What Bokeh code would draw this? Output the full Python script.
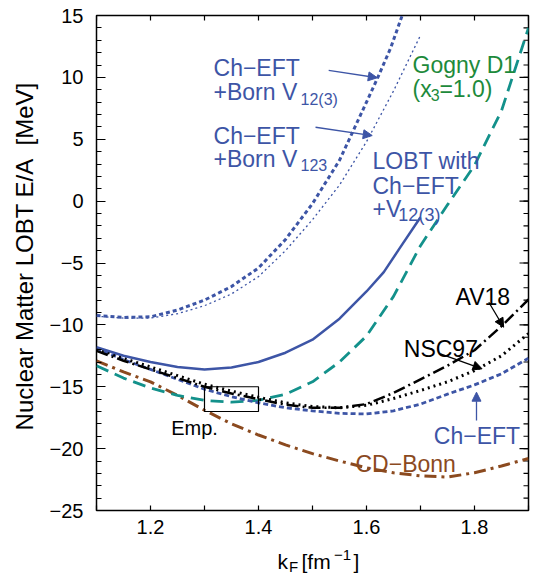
import math
from bokeh.plotting import figure
from bokeh.layouts import column
from bokeh.models import FixedTicker, Label, Arrow, NormalHead, Range1d
from bokeh.embed import file_html
from bokeh.resources import INLINE

FONT = "Liberation Sans"
BLUE = "#3d55a6"
TEAL = "#13918b"
GREEN = "#1d8a3b"
BROWN = "#8b4a1f"
BLACK = "#000000"

# ---------------- data ----------------
kf = [1.10, 1.15, 1.20, 1.25, 1.30, 1.35, 1.40, 1.45, 1.50,
      1.55, 1.60, 1.65, 1.70, 1.75, 1.80, 1.85, 1.90]
gogny = [-13.3, -14.3, -15.1, -15.7, -16.1, -16.25, -16.1, -15.6, -14.6,
         -13.0, -10.9, -7.7, -3.6, -0.3, 2.9, 7.3, 14.0]
av18 = [-12.1, -12.9, -13.6, -14.3, -15.0, -15.55, -16.0, -16.45, -16.7,
        -16.7, -16.4, -15.5, -14.4, -13.3, -12.05, -10.1, -7.95]
nsc97 = [-11.9, -12.7, -13.4, -14.1, -14.8, -15.35, -15.85, -16.3, -16.6,
         -16.7, -16.5, -15.95, -15.3, -14.6, -13.7, -12.5, -10.7]
cheft = [-11.9, -12.8, -13.6, -14.4, -15.2, -15.8, -16.3, -16.7, -16.95,
         -17.15, -17.2, -16.95, -16.4, -15.6, -14.85, -13.95, -12.7]
cdbonn = [-12.9, -13.8, -14.6, -15.7, -16.9, -18.0, -18.9, -19.7, -20.4,
          -21.0, -21.55, -21.95, -22.2, -22.3, -21.95, -21.4, -20.8]

born12_kf = [1.10, 1.15, 1.20, 1.25, 1.30, 1.35, 1.40, 1.45, 1.50, 1.55, 1.60, 1.62, 1.645, 1.666]
born12_e = [-9.25, -9.4, -9.35, -8.8, -8.0, -6.9, -5.4, -3.1, -0.2, 3.3, 8.0, 9.9, 12.4, 15.0]

born123_kf = [1.10, 1.15, 1.20, 1.25, 1.30, 1.35, 1.40, 1.45, 1.50, 1.55, 1.60, 1.65, 1.70]
born123_e = [-9.3, -9.45, -9.45, -9.1, -8.45, -7.5, -6.1, -4.0, -1.5, 1.3, 4.8, 8.9, 13.4]

lobt_kf = [1.10, 1.15, 1.20, 1.25, 1.30, 1.35, 1.40, 1.45, 1.50, 1.55, 1.60, 1.632, 1.66, 1.70]
lobt_e = [-11.8, -12.5, -13.0, -13.4, -13.6, -13.45, -13.0, -12.25, -11.2, -9.5, -7.3, -5.74, -3.9, -1.3]

# empirical saturation box
emp_kf = [1.30, 1.40]
emp_e = [-17.0, -15.0]

x_ticks = [1.1, 1.2, 1.3, 1.4, 1.5, 1.6, 1.7, 1.8, 1.9]
x_tick_labels = ["", "1.2", "", "1.4", "", "1.6", "", "1.8", ""]
y_ticks = [-25, -20, -15, -10, -5, 0, 5, 10, 15]
y_tick_labels = ["\u221225", "\u221220", "\u221215", "\u221210", "\u22125", "0", "5", "10", "15"]
y_minor = list(range(-25, 16))

X_MIN, X_MAX = 1.1, 1.9
Y_MIN, Y_MAX = -25, 15

# text annotations inside the plot: (text, x, y, size, color)
texts = [
    ("Ch\u2212EFT", 1.3167, 10.72, 23, BLUE),
    ("+Born V", 1.3167, 8.78, 23, BLUE),
    ("12(3)", 1.4778, 8.21, 16, BLUE),
    ("Ch\u2212EFT", 1.3167, 5.30, 23, BLUE),
    ("+Born V", 1.3167, 3.44, 23, BLUE),
    ("123", 1.4778, 2.88, 16, BLUE),
    ("LOBT with", 1.6111, 3.28, 23, BLUE),
    ("Ch\u2212EFT", 1.6111, 1.26, 23, BLUE),
    ("+V", 1.6111, -0.60, 23, BLUE),
    ("12(3)", 1.6590, -1.16, 18, BLUE),
    ("Gogny D1", 1.6852, 10.96, 23, GREEN),
    ("(x", 1.6852, 9.08, 23, GREEN),
    ("3", 1.7190, 8.54, 16, GREEN),
    ("=1.0)", 1.7350, 9.08, 23, GREEN),
    ("AV18", 1.7648, -7.76, 23, BLACK),
    ("NSC97", 1.6691, -11.94, 23, BLACK),
    ("Ch\u2212EFT", 1.7247, -18.94, 23, BLUE),
    ("CD\u2212Bonn", 1.5796, -21.28, 23, BROWN),
    ("Emp.", 1.2383, -18.35, 20, BLACK),
]

# x-axis title pieces: (text, x, baseline in px above strip bottom, size)
xtitle = [
    ("k", 1.4352, 14, 21),
    ("F", 1.4565, 9, 15),
    ("[fm", 1.4796, 14, 21),
    ("\u22121", 1.5398, 21, 15),
    ("]", 1.5759, 14, 21),
]

# arrows: (x_start, y_start, x_end, y_end, color)
arrows = [
    (1.530, 10.56, 1.620, 9.97, BLUE),
    (1.5056, 5.97, 1.6106, 5.30, BLUE),
    (1.8265, -8.17, 1.854, -10.19, BLACK),
    (1.737, -12.34, 1.814, -13.55, BLACK),
    (1.8037, -17.73, 1.8037, -15.44, BLUE),
]

# ---------------- figure ----------------
p = figure(width=537, height=545,
           x_range=Range1d(X_MIN, X_MAX), y_range=Range1d(Y_MIN, Y_MAX),
           output_backend="svg", toolbar_location=None,
           min_border_left=96, min_border_right=9,
           min_border_top=15, min_border_bottom=35)
p.grid.visible = False
p.outline_line_color = "black"
p.outline_line_width = 1.5
p.background_fill_color = "white"
p.border_fill_color = "white"

xa = p.xaxis[0]
xa.ticker = FixedTicker(ticks=x_ticks)
xa.major_label_overrides = {t: l for t, l in zip(x_ticks, x_tick_labels)}
xa.major_tick_in = 5
xa.major_tick_out = 0
xa.minor_tick_in = 0
xa.minor_tick_out = 0
xa.axis_line_color = None
xa.major_tick_line_width = 1.2
xa.major_label_text_font = FONT
xa.major_label_text_font_size = "20px"
xa.major_label_text_color = BLACK
xa.major_label_standoff = 9

ya = p.yaxis[0]
ya.ticker = FixedTicker(ticks=y_ticks, minor_ticks=y_minor)
ya.major_label_overrides = {t: l for t, l in zip(y_ticks, y_tick_labels)}
ya.major_tick_in = 9
ya.major_tick_out = 0
ya.minor_tick_in = 5
ya.minor_tick_out = 0
ya.axis_line_color = None
ya.major_tick_line_width = 1.2
ya.minor_tick_line_width = 1.2
ya.major_label_text_font = FONT
ya.major_label_text_font_size = "20px"
ya.major_label_text_color = BLACK
ya.major_label_standoff = 13
ya.axis_label = "\u00a0\u00a0Nuclear Matter LOBT E/A\u00a0 [MeV]"
ya.axis_label_text_font = FONT
ya.axis_label_text_font_size = "24px"
ya.axis_label_text_font_style = "normal"
ya.axis_label_text_color = BLACK
ya.axis_label_standoff = 9

# mirrored ticks on the top and right frame edges (markers clipped by the frame)
p.scatter(x_ticks, [Y_MAX] * len(x_ticks), marker="dash", size=10, angle=math.pi / 2,
          line_color=BLACK, line_width=1.2)
p.scatter([X_MAX] * len(y_minor), y_minor, marker="dash", size=10,
          line_color=BLACK, line_width=1.2)
p.scatter([X_MAX] * len(y_ticks), y_ticks, marker="dash", size=18,
          line_color=BLACK, line_width=1.2)

# curves
p.line(kf, cdbonn, line_color=BROWN, line_width=3, line_dash="12 5 3 5")
p.line(kf, gogny, line_color=TEAL, line_width=2.8, line_dash="13 7")
p.line(kf, cheft, line_color=BLUE, line_width=2.8, line_dash="5 3")
p.line(kf, nsc97, line_color=BLACK, line_width=3, line_dash="2 4")
p.line(kf, av18, line_color=BLACK, line_width=2.5, line_dash="12 4 2 4")
p.line(born123_kf, born123_e, line_color=BLUE, line_width=1.3, line_dash="2 3")
p.line(born12_kf, born12_e, line_color=BLUE, line_width=3, line_dash="4 3")
p.line(lobt_kf, lobt_e, line_color=BLUE, line_width=2.5)

p.quad(left=[emp_kf[0]], right=[emp_kf[1]], bottom=[emp_e[0]], top=[emp_e[1]],
       fill_color=None, line_color=BLACK, line_width=1.2)

for (x0, y0, x1, y1, c) in arrows:
    p.add_layout(Arrow(x_start=x0, y_start=y0, x_end=x1, y_end=y1,
                       line_color=c, line_width=1.3,
                       end=NormalHead(size=9, fill_color=c, line_color=c, line_width=1)))

for (t, x, y, s, c) in texts:
    p.add_layout(Label(x=x, y=y, text=t, text_font=FONT, text_font_size=f"{s}px",
                       text_color=c, text_baseline="alphabetic", text_align="left"))

# strip below the plot carrying the x-axis title (k_F [fm^-1])
p2 = figure(width=537, height=30, x_range=p.x_range, y_range=Range1d(0, 30),
            x_axis_type=None, y_axis_type=None,
            output_backend="svg", toolbar_location=None,
            min_border_left=96, min_border_right=9, min_border_top=0, min_border_bottom=0)
p2.grid.visible = False
p2.outline_line_color = None
p2.background_fill_color = "white"
p2.border_fill_color = "white"
for (t, x, y, s) in xtitle:
    p2.add_layout(Label(x=x, y=y, text=t, text_font=FONT, text_font_size=f"{s}px",
                        text_color=BLACK, text_baseline="alphabetic", text_align="left"))

layout = column(p, p2, spacing=0)
open("out.html", "w").write(file_html(layout, INLINE))
